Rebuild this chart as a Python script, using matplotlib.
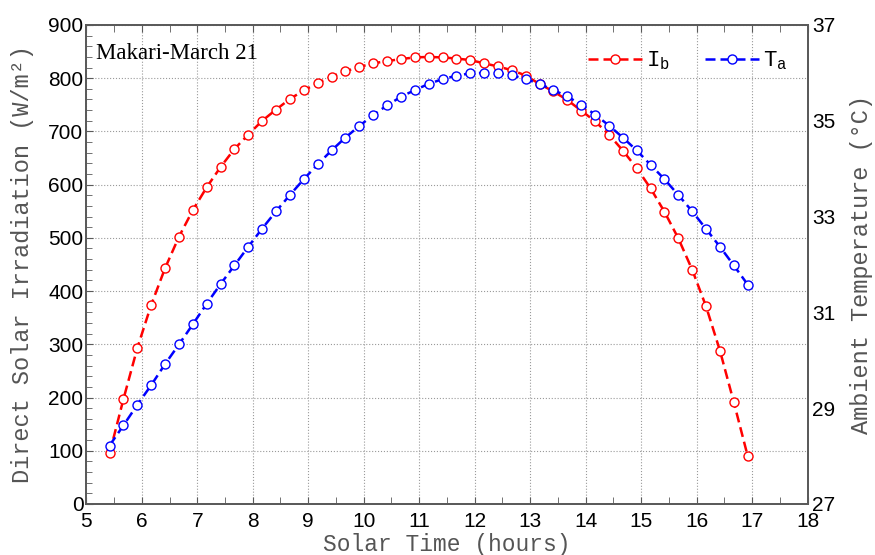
import matplotlib
matplotlib.use("Agg")
import matplotlib.pyplot as plt
from matplotlib.ticker import MultipleLocator, FixedLocator

# solar time (hours), 15 min steps
solar_time = [5.42, 5.67, 5.92, 6.17, 6.42, 6.67, 6.92, 7.17, 7.42, 7.67,
              7.92, 8.17, 8.42, 8.67, 8.92, 9.17, 9.42, 9.67, 9.92, 10.17,
              10.42, 10.67, 10.92, 11.17, 11.42, 11.67, 11.92, 12.17, 12.42, 12.67,
              12.92, 13.17, 13.42, 13.67, 13.92, 14.17, 14.42, 14.67, 14.92, 15.17,
              15.42, 15.67, 15.92, 16.17, 16.42, 16.67, 16.92]

# direct solar irradiation Ib (W/m2)
irradiation = [95, 197, 293, 374, 443, 502, 552, 595, 633, 667,
               694, 720, 741, 761, 777, 791, 803, 813, 821, 828,
               832, 836, 839, 840, 839, 837, 834, 828, 822, 815,
               805, 789, 775, 759, 739, 719, 694, 664, 631, 593,
               549, 499, 440, 371, 288, 191, 90]

# ambient temperature Ta (C)
temperature = [28.22, 28.64, 29.07, 29.48, 29.92, 30.33, 30.75, 31.18, 31.59, 31.98,
               32.37, 32.75, 33.11, 33.45, 33.78, 34.09, 34.38, 34.65, 34.89, 35.12,
               35.32, 35.50, 35.64, 35.77, 35.87, 35.94, 35.99, 36.00, 35.99, 35.95,
               35.87, 35.77, 35.64, 35.51, 35.33, 35.13, 34.90, 34.65, 34.38, 34.08,
               33.78, 33.45, 33.11, 32.74, 32.37, 31.98, 31.58]

temp_ticks = [27, 29, 31, 33, 35, 37]

mono = 'Liberation Mono'
sans = 'Liberation Sans'
spine_col = '#5a5a5a'
label_col = '#555555'

fig = plt.figure(figsize=(8.75, 5.55), dpi=100)
ax = fig.add_axes([0.0986, 0.092, 0.8244, 0.863])
ax2 = ax.twinx()

l1, = ax.plot(solar_time, irradiation, color='red', ls='--', lw=1.8,
              marker='o', ms=6.5, mfc='white', mec='red', mew=1.0, dashes=(4, 2))
l2, = ax2.plot(solar_time, temperature, color='blue', ls='--', lw=1.8,
               marker='o', ms=6.5, mfc='white', mec='blue', mew=1.0, dashes=(4, 2))

ax.set_xlim(5, 18)
ax.set_ylim(0, 900)
ax2.set_ylim(27, 37)

ax.xaxis.set_major_locator(MultipleLocator(1))
ax.xaxis.set_minor_locator(MultipleLocator(0.5))
ax.yaxis.set_major_locator(MultipleLocator(100))
ax.yaxis.set_minor_locator(MultipleLocator(20))
ax2.yaxis.set_major_locator(FixedLocator(temp_ticks))

ax.grid(True, which='major', color='#9a9a9a', ls=':', lw=0.8)
ax.set_axisbelow(True)

ax.tick_params(axis='x', which='both', direction='in', top=True, labelsize=15, pad=6,
               color=spine_col, length=5)
ax.tick_params(axis='y', which='both', direction='in', labelsize=15, pad=2, color=spine_col)
ax.tick_params(axis='y', which='major', length=5)
ax.tick_params(axis='y', which='minor', length=4)
ax2.tick_params(axis='y', length=0, labelsize=15, pad=3)

for lab in ax.get_xticklabels() + ax.get_yticklabels() + ax2.get_yticklabels():
    lab.set_fontfamily(sans)

for a in (ax, ax2):
    for s in a.spines.values():
        s.set_color(spine_col)
        s.set_linewidth(1.3)

ax.set_xlabel('Solar Time (hours)', fontfamily=mono, fontsize=16.5, color=label_col, labelpad=1)
ax.set_ylabel('Direct Solar Irradiation (W/m\u00b2)', fontfamily=mono, fontsize=17,
              color=label_col, labelpad=10)
ax2.set_ylabel('Ambient Temperature (\u00b0C)', fontfamily=mono, fontsize=17,
               color=label_col, labelpad=11)

ax.text(0.013, 0.963, 'Makari-March 21', transform=ax.transAxes, ha='left', va='top',
        fontfamily='Liberation Serif', fontsize=16.5)

ax2.legend([l1, l2], [r'$\mathregular{I_b}$', r'$\mathregular{T_a}$'], loc='upper right',
           bbox_to_anchor=(1.0, 0.99), ncol=2, frameon=False,
           prop={'family': mono, 'size': 16},
           handlelength=2.4, columnspacing=1.6, handletextpad=0.2)

fig.savefig('out.png', dpi=100)
